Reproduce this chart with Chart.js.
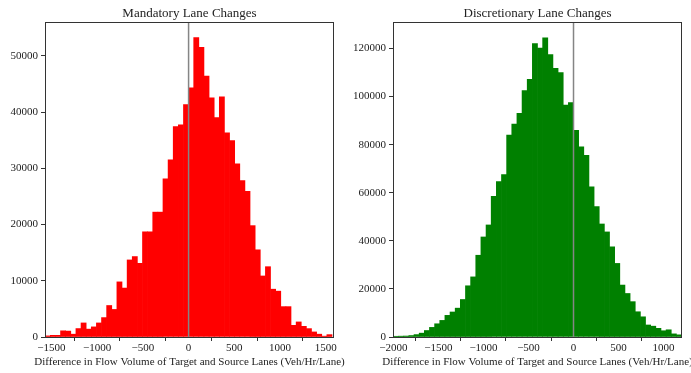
<!DOCTYPE html>
<html>
<head>
<meta charset="utf-8">
<script src="https://cdn.jsdelivr.net/npm/chart.js@4.4.1/dist/chart.umd.min.js"></script>
<style>
    html, body { margin: 0; padding: 0; background: #fff; overflow: hidden; }
    #wrap { position: relative; width: 691px; height: 373px; }
    canvas { position: absolute; top: 0; }
</style>
</head>
<body>
<div id="wrap">
    <canvas id="mandatoryChart" width="360" height="373" style="left:0"></canvas>
    <canvas id="discretionaryChart" width="346" height="373" style="left:345px"></canvas>
</div>
<script>
// Histogram data (bin counts, left to right)
const mandatoryBinStart = -1568;
const mandatoryBinWidth = 56;
const mandatoryCounts = [200, 300, 300, 1100, 1050, 500, 1500, 2500, 1400, 1800, 2500, 3450, 5600, 4900,
    9800, 8700, 13700, 14300, 13100, 18700, 18700, 22200, 22200, 28100, 31500, 37400, 37700, 41300,
    44300, 53250, 51500, 46400, 42500, 39000, 42700, 36300, 34900, 30800, 27800, 25900, 19800, 15500,
    10850, 12500, 8500, 8150, 5400, 5400, 2080, 2680, 1900, 1490, 900, 500, 150, 420];
const mandatoryXTicks = [-1500, -1000, -500, 0, 500, 1000, 1500];
const mandatoryYTicks = [0, 10000, 20000, 30000, 40000, 50000];

const discretionaryBinStart = -2000;
const discretionaryBinWidth = 3200 / 56;
const discretionaryCounts = [300, 350, 400, 600, 1000, 1600, 2700, 4000, 5500, 6900, 9000, 10400, 12000, 15600,
    21300, 25000, 34000, 41600, 46600, 58500, 64600, 67500, 84000, 88500, 93000, 102500, 107200, 122000,
    120200, 124400, 117500, 111700, 110000, 96400, 97500, 86000, 79100, 75600, 62500, 54200, 47000, 43700,
    37500, 30600, 21600, 18100, 14700, 10500, 8400, 5000, 4500, 3600, 2600, 3000, 1300, 900];
const discretionaryXTicks = [-2000, -1500, -1000, -500, 0, 500, 1000];
const discretionaryYTicks = [0, 20000, 40000, 60000, 80000, 100000, 120000];

const titles = ['Mandatory Lane Changes', 'Discretionary Lane Changes'];
const xAxisTitle = 'Difference in Flow Volume of Target and Source Lanes (Veh/Hr/Lane)';

const serif = "'Liberation Serif', 'DejaVu Serif', serif";
const textColor = '#222';

// Function to turn bin counts into {x, y} points at bin centres
function toBins(start, width, counts) {
    return counts.map((c, i) => ({ x: start + width * (i + 0.5), y: c }));
}

// Tick label with a real minus sign, no thousands separator
function plainTick(v) {
    return v < 0 ? '\u2212' + Math.abs(v) : String(v);
}

// Draws the four-sided frame round the plot area, plus the x-axis title
// (the built-in scale title squeezes text to the plot width, matplotlib doesn't)
const framePlugin = {
    id: 'frame',
    afterDraw(chart) {
        const a = chart.chartArea;
        const ctx = chart.ctx;
        ctx.save();
        ctx.strokeStyle = '#333';
        ctx.lineWidth = 1;
        ctx.strokeRect(Math.round(a.left) + 0.5, Math.round(a.top) + 0.5,
            Math.round(a.right - a.left) - 1, Math.round(a.bottom - a.top));

        ctx.fillStyle = textColor;
        ctx.font = '11px ' + serif;
        ctx.textAlign = 'center';
        ctx.textBaseline = 'middle';
        ctx.fillText(xAxisTitle, (a.left + a.right) / 2, a.bottom + 25);
        ctx.restore();
    }
};

function createHistogram(canvasId, opts) {
    const ctx = document.getElementById(canvasId).getContext('2d');
    return new Chart(ctx, {
        type: 'bar',
        data: {
            datasets: [
                {
                    type: 'line',
                    data: [{ x: 0, y: 0 }, { x: 0, y: opts.yMax }],
                    borderColor: '#858585',
                    borderWidth: 1.5,
                    pointRadius: 0,
                    order: 0
                },
                {
                    data: toBins(opts.binStart, opts.binWidth, opts.counts),
                    backgroundColor: opts.color,
                    borderWidth: 0,
                    barPercentage: 1,
                    categoryPercentage: 1,
                    grouped: false,
                    order: 1
                }
            ]
        },
        options: {
            responsive: false,
            animation: false,
            devicePixelRatio: 1,
            layout: { padding: { left: 0, right: opts.padRight, top: 0, bottom: 0 } },
            plugins: {
                legend: { display: false },
                tooltip: { enabled: false },
                title: {
                    display: true,
                    text: opts.title,
                    fullSize: false,
                    color: textColor,
                    font: { family: serif, size: 13, weight: 'normal', lineHeight: 1 },
                    padding: { top: 7, bottom: 2 }
                }
            },
            scales: {
                x: {
                    type: 'linear',
                    min: opts.xMin,
                    max: opts.xMax,
                    offset: false,
                    afterBuildTicks: s => { s.ticks = opts.xTicks.map(v => ({ value: v })); },
                    afterFit: s => { s.height = 36; },
                    border: { display: false },
                    grid: { drawOnChartArea: false, drawTicks: true, tickLength: 4, color: '#333' },
                    ticks: {
                        maxRotation: 0,
                        autoSkip: false,
                        padding: 1,
                        color: textColor,
                        font: { family: serif, size: 11 },
                        callback: plainTick
                    }
                },
                y: {
                    min: 0,
                    max: opts.yMax,
                    afterBuildTicks: s => { s.ticks = opts.yTicks.map(v => ({ value: v })); },
                    afterFit: s => { s.width = opts.yWidth; },
                    border: { display: false },
                    grid: { drawOnChartArea: false, drawTicks: true, tickLength: 4, color: '#333' },
                    ticks: {
                        autoSkip: false,
                        padding: 3,
                        color: textColor,
                        font: { family: serif, size: 11 },
                        callback: plainTick
                    }
                }
            }
        },
        plugins: [framePlugin]
    });
}

createHistogram('mandatoryChart', {
    title: titles[0],
    counts: mandatoryCounts,
    binStart: mandatoryBinStart,
    binWidth: mandatoryBinWidth,
    color: '#ff0000',
    xMin: -1570,
    xMax: 1590,
    xTicks: mandatoryXTicks,
    yMax: 56000,
    yTicks: mandatoryYTicks,
    yWidth: 45,
    padRight: 26
});

createHistogram('discretionaryChart', {
    title: titles[1],
    counts: discretionaryCounts,
    binStart: discretionaryBinStart,
    binWidth: discretionaryBinWidth,
    color: '#008000',
    xMin: -2005,
    xMax: 1205,
    xTicks: discretionaryXTicks,
    yMax: 131000,
    yTicks: discretionaryYTicks,
    yWidth: 48,
    padRight: 9
});
</script>
</body>
</html>
